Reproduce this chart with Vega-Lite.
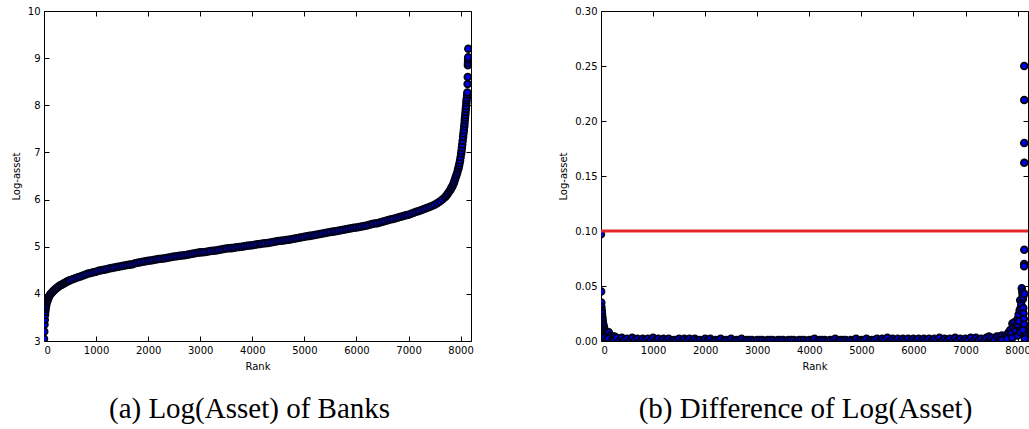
{
  "$schema": "https://vega.github.io/schema/vega-lite/v6.json",
  "background": "white",
  "padding": {"left": 10, "top": 5, "right": 0, "bottom": 0},
  "spacing": 84,
  "config": {
    "view": {"stroke": "#000", "strokeWidth": 1},
    "axis": {"grid": false, "domain": false, "tickColor": "#000", "tickSize": -5, "labelFont": "DejaVu Sans", "labelFontSize": 10, "labelColor": "#000", "titleFont": "DejaVu Sans", "titleFontSize": 10, "titleFontWeight": "normal", "titleColor": "#000", "labelPadding": 9, "titlePadding": 6},
    "title": {"font": "Liberation Serif", "fontSize": 29, "fontWeight": "normal", "orient": "bottom", "color": "#000", "offset": 24}
  },
  "datasets": {
    "left": [
      {"rank": 0, "value": 3.05}, {"rank": 5, "value": 3.2}, {"rank": 10, "value": 3.35}, {"rank": 15, "value": 3.45}, {"rank": 20, "value": 3.55}, {"rank": 25, "value": 3.62}, {"rank": 30, "value": 3.68}, {"rank": 35, "value": 3.72}, {"rank": 40, "value": 3.75}, {"rank": 50, "value": 3.8}, {"rank": 60, "value": 3.84}, {"rank": 70, "value": 3.87}, {"rank": 80, "value": 3.9}, {"rank": 90, "value": 3.93}, {"rank": 100, "value": 3.95}, {"rank": 115, "value": 3.98}, {"rank": 130, "value": 4.0}, {"rank": 145, "value": 4.02}, {"rank": 160, "value": 4.04}, {"rank": 180, "value": 4.06}, {"rank": 200, "value": 4.08}, {"rank": 225, "value": 4.11}, {"rank": 250, "value": 4.13}, {"rank": 275, "value": 4.15}, {"rank": 300, "value": 4.17}, {"rank": 325, "value": 4.19}, {"rank": 350, "value": 4.2}, {"rank": 375, "value": 4.22}, {"rank": 400, "value": 4.23}, {"rank": 425, "value": 4.25}, {"rank": 450, "value": 4.26}, {"rank": 475, "value": 4.28}, {"rank": 500, "value": 4.29}, {"rank": 550, "value": 4.31}, {"rank": 600, "value": 4.33}, {"rank": 650, "value": 4.35}, {"rank": 700, "value": 4.37}, {"rank": 750, "value": 4.39}, {"rank": 800, "value": 4.41}, {"rank": 850, "value": 4.43}, {"rank": 900, "value": 4.44}, {"rank": 950, "value": 4.46}, {"rank": 1000, "value": 4.47},
      {"rank": 1050, "value": 4.49}, {"rank": 1100, "value": 4.5}, {"rank": 1150, "value": 4.51}, {"rank": 1200, "value": 4.52}, {"rank": 1250, "value": 4.54}, {"rank": 1300, "value": 4.55}, {"rank": 1350, "value": 4.56}, {"rank": 1400, "value": 4.57}, {"rank": 1450, "value": 4.58}, {"rank": 1500, "value": 4.59}, {"rank": 1550, "value": 4.6}, {"rank": 1600, "value": 4.61}, {"rank": 1650, "value": 4.62}, {"rank": 1700, "value": 4.63}, {"rank": 1750, "value": 4.65}, {"rank": 1800, "value": 4.66}, {"rank": 1850, "value": 4.67}, {"rank": 1900, "value": 4.68}, {"rank": 1950, "value": 4.69}, {"rank": 2000, "value": 4.7},
      {"rank": 2050, "value": 4.71}, {"rank": 2100, "value": 4.72}, {"rank": 2150, "value": 4.73}, {"rank": 2200, "value": 4.74}, {"rank": 2250, "value": 4.745}, {"rank": 2300, "value": 4.75}, {"rank": 2350, "value": 4.76}, {"rank": 2400, "value": 4.77}, {"rank": 2450, "value": 4.78}, {"rank": 2500, "value": 4.79}, {"rank": 2550, "value": 4.8}, {"rank": 2600, "value": 4.81}, {"rank": 2650, "value": 4.815}, {"rank": 2700, "value": 4.82}, {"rank": 2750, "value": 4.83}, {"rank": 2800, "value": 4.84}, {"rank": 2850, "value": 4.85}, {"rank": 2900, "value": 4.86}, {"rank": 2950, "value": 4.87}, {"rank": 3000, "value": 4.88},
      {"rank": 3050, "value": 4.885}, {"rank": 3100, "value": 4.89}, {"rank": 3150, "value": 4.9}, {"rank": 3200, "value": 4.91}, {"rank": 3250, "value": 4.915}, {"rank": 3300, "value": 4.92}, {"rank": 3350, "value": 4.93}, {"rank": 3400, "value": 4.94}, {"rank": 3450, "value": 4.95}, {"rank": 3500, "value": 4.96}, {"rank": 3550, "value": 4.965}, {"rank": 3600, "value": 4.97}, {"rank": 3650, "value": 4.98}, {"rank": 3700, "value": 4.99}, {"rank": 3750, "value": 4.995}, {"rank": 3800, "value": 5.0}, {"rank": 3850, "value": 5.01}, {"rank": 3900, "value": 5.02}, {"rank": 3950, "value": 5.025}, {"rank": 4000, "value": 5.03},
      {"rank": 4050, "value": 5.04}, {"rank": 4100, "value": 5.05}, {"rank": 4150, "value": 5.06}, {"rank": 4200, "value": 5.07}, {"rank": 4250, "value": 5.075}, {"rank": 4300, "value": 5.08}, {"rank": 4350, "value": 5.09}, {"rank": 4400, "value": 5.1}, {"rank": 4450, "value": 5.11}, {"rank": 4500, "value": 5.12}, {"rank": 4550, "value": 5.125}, {"rank": 4600, "value": 5.13}, {"rank": 4650, "value": 5.14}, {"rank": 4700, "value": 5.15}, {"rank": 4750, "value": 5.16}, {"rank": 4800, "value": 5.17}, {"rank": 4850, "value": 5.18}, {"rank": 4900, "value": 5.19}, {"rank": 4950, "value": 5.2}, {"rank": 5000, "value": 5.21},
      {"rank": 5050, "value": 5.22}, {"rank": 5100, "value": 5.23}, {"rank": 5150, "value": 5.24}, {"rank": 5200, "value": 5.25}, {"rank": 5250, "value": 5.26}, {"rank": 5300, "value": 5.27}, {"rank": 5350, "value": 5.28}, {"rank": 5400, "value": 5.29}, {"rank": 5450, "value": 5.3}, {"rank": 5500, "value": 5.31}, {"rank": 5550, "value": 5.32}, {"rank": 5600, "value": 5.33}, {"rank": 5650, "value": 5.34}, {"rank": 5700, "value": 5.35}, {"rank": 5750, "value": 5.36}, {"rank": 5800, "value": 5.37}, {"rank": 5850, "value": 5.38}, {"rank": 5900, "value": 5.39}, {"rank": 5950, "value": 5.4}, {"rank": 6000, "value": 5.41},
      {"rank": 6050, "value": 5.42}, {"rank": 6100, "value": 5.43}, {"rank": 6150, "value": 5.44}, {"rank": 6200, "value": 5.45}, {"rank": 6250, "value": 5.465}, {"rank": 6300, "value": 5.48}, {"rank": 6350, "value": 5.49}, {"rank": 6400, "value": 5.5}, {"rank": 6450, "value": 5.515}, {"rank": 6500, "value": 5.53}, {"rank": 6550, "value": 5.545}, {"rank": 6600, "value": 5.56}, {"rank": 6650, "value": 5.575}, {"rank": 6700, "value": 5.59}, {"rank": 6750, "value": 5.605}, {"rank": 6800, "value": 5.62}, {"rank": 6850, "value": 5.635}, {"rank": 6900, "value": 5.65}, {"rank": 6950, "value": 5.665}, {"rank": 7000, "value": 5.68},
      {"rank": 7050, "value": 5.7}, {"rank": 7100, "value": 5.72}, {"rank": 7150, "value": 5.74}, {"rank": 7200, "value": 5.76}, {"rank": 7250, "value": 5.78}, {"rank": 7300, "value": 5.8}, {"rank": 7350, "value": 5.82}, {"rank": 7400, "value": 5.84}, {"rank": 7450, "value": 5.865}, {"rank": 7500, "value": 5.89}, {"rank": 7550, "value": 5.92}, {"rank": 7600, "value": 5.96}, {"rank": 7650, "value": 6.0}, {"rank": 7700, "value": 6.05}, {"rank": 7725, "value": 6.08}, {"rank": 7750, "value": 6.12}, {"rank": 7775, "value": 6.16}, {"rank": 7800, "value": 6.2},
      {"rank": 7815, "value": 6.23}, {"rank": 7830, "value": 6.26}, {"rank": 7845, "value": 6.29}, {"rank": 7860, "value": 6.33}, {"rank": 7875, "value": 6.37}, {"rank": 7890, "value": 6.42}, {"rank": 7905, "value": 6.47}, {"rank": 7920, "value": 6.52}, {"rank": 7935, "value": 6.57}, {"rank": 7950, "value": 6.63}, {"rank": 7960, "value": 6.67}, {"rank": 7970, "value": 6.72}, {"rank": 7980, "value": 6.77}, {"rank": 7990, "value": 6.83}, {"rank": 8000, "value": 6.9}, {"rank": 8010, "value": 6.97}, {"rank": 8018, "value": 7.03}, {"rank": 8025, "value": 7.1}, {"rank": 8032, "value": 7.17}, {"rank": 8040, "value": 7.25},
      {"rank": 8048, "value": 7.33}, {"rank": 8055, "value": 7.4}, {"rank": 8062, "value": 7.47}, {"rank": 8070, "value": 7.55}, {"rank": 8075, "value": 7.61}, {"rank": 8080, "value": 7.68}, {"rank": 8085, "value": 7.74}, {"rank": 8090, "value": 7.8}, {"rank": 8095, "value": 7.86}, {"rank": 8100, "value": 7.92}, {"rank": 8105, "value": 7.98}, {"rank": 8110, "value": 8.05}, {"rank": 8115, "value": 8.1}, {"rank": 8120, "value": 8.15}, {"rank": 8125, "value": 8.22}, {"rank": 8130, "value": 8.27},
      {"rank": 8135, "value": 8.45}, {"rank": 8138, "value": 8.6}, {"rank": 8140, "value": 8.85}, {"rank": 8142, "value": 8.9}, {"rank": 8144, "value": 8.97}, {"rank": 8146, "value": 9.02}, {"rank": 8148, "value": 9.2}
    ],
    "right": [
      {"rank": 0, "value": 0.097}, {"rank": 3, "value": 0.045}, {"rank": 6, "value": 0.035}, {"rank": 9, "value": 0.031}, {"rank": 12, "value": 0.028}, {"rank": 15, "value": 0.027}, {"rank": 20, "value": 0.025}, {"rank": 25, "value": 0.022}, {"rank": 30, "value": 0.02}, {"rank": 35, "value": 0.018}, {"rank": 40, "value": 0.016}, {"rank": 50, "value": 0.014}, {"rank": 60, "value": 0.012}, {"rank": 70, "value": 0.01}, {"rank": 80, "value": 0.009}, {"rank": 90, "value": 0.008}, {"rank": 100, "value": 0.007}, {"rank": 120, "value": 0.006}, {"rank": 150, "value": 0.008}, {"rank": 180, "value": 0.005}, {"rank": 220, "value": 0.004}, {"rank": 260, "value": 0.004},
      {"rank": 10, "value": 0.002}, {"rank": 40, "value": 0.001}, {"rank": 70, "value": 0.003}, {"rank": 110, "value": 0.001}, {"rank": 140, "value": 0.002}, {"rank": 200, "value": 0.0}, {"rank": 250, "value": 0.001},
      {"rank": 300, "value": 0.003}, {"rank": 350, "value": 0.0}, {"rank": 400, "value": 0.003}, {"rank": 450, "value": 0.001}, {"rank": 500, "value": 0.002}, {"rank": 550, "value": 0.0}, {"rank": 600, "value": 0.003}, {"rank": 650, "value": 0.001}, {"rank": 700, "value": 0.002}, {"rank": 750, "value": 0.0}, {"rank": 800, "value": 0.002}, {"rank": 850, "value": 0.001}, {"rank": 900, "value": 0.002}, {"rank": 950, "value": 0.0}, {"rank": 1000, "value": 0.003}, {"rank": 1050, "value": 0.001},
      {"rank": 1100, "value": 0.002}, {"rank": 1150, "value": 0.0}, {"rank": 1200, "value": 0.002}, {"rank": 1250, "value": 0.001}, {"rank": 1300, "value": 0.002}, {"rank": 1350, "value": 0.0}, {"rank": 1400, "value": 0.001}, {"rank": 1450, "value": 0.001}, {"rank": 1500, "value": 0.002}, {"rank": 1550, "value": 0.0}, {"rank": 1600, "value": 0.002}, {"rank": 1650, "value": 0.001}, {"rank": 1700, "value": 0.002}, {"rank": 1750, "value": 0.0}, {"rank": 1800, "value": 0.002}, {"rank": 1850, "value": 0.001}, {"rank": 1900, "value": 0.001}, {"rank": 1950, "value": 0.0}, {"rank": 2000, "value": 0.002}, {"rank": 2050, "value": 0.001},
      {"rank": 2100, "value": 0.002}, {"rank": 2150, "value": 0.0}, {"rank": 2200, "value": 0.001}, {"rank": 2250, "value": 0.001}, {"rank": 2300, "value": 0.002}, {"rank": 2350, "value": 0.0}, {"rank": 2400, "value": 0.001}, {"rank": 2450, "value": 0.001}, {"rank": 2500, "value": 0.002}, {"rank": 2550, "value": 0.0}, {"rank": 2600, "value": 0.001}, {"rank": 2650, "value": 0.001}, {"rank": 2700, "value": 0.002}, {"rank": 2750, "value": 0.0}, {"rank": 2800, "value": 0.001}, {"rank": 2850, "value": 0.001}, {"rank": 2900, "value": 0.001}, {"rank": 2950, "value": 0.0}, {"rank": 3000, "value": 0.001}, {"rank": 3050, "value": 0.001},
      {"rank": 3100, "value": 0.001}, {"rank": 3150, "value": 0.0}, {"rank": 3200, "value": 0.001}, {"rank": 3250, "value": 0.001}, {"rank": 3300, "value": 0.001}, {"rank": 3350, "value": 0.0}, {"rank": 3400, "value": 0.001}, {"rank": 3450, "value": 0.001}, {"rank": 3500, "value": 0.001}, {"rank": 3550, "value": 0.0}, {"rank": 3600, "value": 0.001}, {"rank": 3650, "value": 0.001}, {"rank": 3700, "value": 0.001}, {"rank": 3750, "value": 0.0}, {"rank": 3800, "value": 0.001}, {"rank": 3850, "value": 0.001}, {"rank": 3900, "value": 0.001}, {"rank": 3950, "value": 0.0}, {"rank": 4000, "value": 0.001}, {"rank": 4050, "value": 0.001},
      {"rank": 4100, "value": 0.002}, {"rank": 4150, "value": 0.0}, {"rank": 4200, "value": 0.001}, {"rank": 4250, "value": 0.001}, {"rank": 4300, "value": 0.001}, {"rank": 4350, "value": 0.0}, {"rank": 4400, "value": 0.001}, {"rank": 4450, "value": 0.001}, {"rank": 4500, "value": 0.002}, {"rank": 4550, "value": 0.0}, {"rank": 4600, "value": 0.001}, {"rank": 4650, "value": 0.001}, {"rank": 4700, "value": 0.001}, {"rank": 4750, "value": 0.0}, {"rank": 4800, "value": 0.001}, {"rank": 4850, "value": 0.001}, {"rank": 4900, "value": 0.002}, {"rank": 4950, "value": 0.0}, {"rank": 5000, "value": 0.001}, {"rank": 5050, "value": 0.001},
      {"rank": 5100, "value": 0.002}, {"rank": 5150, "value": 0.0}, {"rank": 5200, "value": 0.001}, {"rank": 5250, "value": 0.001}, {"rank": 5300, "value": 0.002}, {"rank": 5350, "value": 0.0}, {"rank": 5400, "value": 0.002}, {"rank": 5450, "value": 0.001}, {"rank": 5500, "value": 0.003}, {"rank": 5550, "value": 0.0}, {"rank": 5600, "value": 0.002}, {"rank": 5650, "value": 0.001}, {"rank": 5700, "value": 0.002}, {"rank": 5750, "value": 0.0}, {"rank": 5800, "value": 0.002}, {"rank": 5850, "value": 0.001}, {"rank": 5900, "value": 0.002}, {"rank": 5950, "value": 0.0}, {"rank": 6000, "value": 0.002}, {"rank": 6050, "value": 0.001},
      {"rank": 6100, "value": 0.002}, {"rank": 6150, "value": 0.0}, {"rank": 6200, "value": 0.002}, {"rank": 6250, "value": 0.001}, {"rank": 6300, "value": 0.002}, {"rank": 6350, "value": 0.0}, {"rank": 6400, "value": 0.002}, {"rank": 6450, "value": 0.001}, {"rank": 6500, "value": 0.003}, {"rank": 6550, "value": 0.0}, {"rank": 6600, "value": 0.002}, {"rank": 6650, "value": 0.001}, {"rank": 6700, "value": 0.002}, {"rank": 6750, "value": 0.0}, {"rank": 6800, "value": 0.003}, {"rank": 6850, "value": 0.001}, {"rank": 6900, "value": 0.002}, {"rank": 6950, "value": 0.0}, {"rank": 7000, "value": 0.002}, {"rank": 7050, "value": 0.001},
      {"rank": 7100, "value": 0.003}, {"rank": 7150, "value": 0.0}, {"rank": 7200, "value": 0.003}, {"rank": 7250, "value": 0.001}, {"rank": 7300, "value": 0.002}, {"rank": 7350, "value": 0.0}, {"rank": 7400, "value": 0.003}, {"rank": 7450, "value": 0.004}, {"rank": 7500, "value": 0.003}, {"rank": 7550, "value": 0.001}, {"rank": 7600, "value": 0.004}, {"rank": 7650, "value": 0.004},
      {"rank": 7700, "value": 0.005}, {"rank": 7750, "value": 0.004}, {"rank": 7800, "value": 0.006}, {"rank": 7830, "value": 0.008}, {"rank": 7860, "value": 0.01}, {"rank": 7880, "value": 0.007}, {"rank": 7900, "value": 0.016}, {"rank": 7920, "value": 0.012}, {"rank": 7940, "value": 0.017}, {"rank": 7960, "value": 0.01}, {"rank": 7980, "value": 0.014}, {"rank": 8000, "value": 0.02}, {"rank": 8010, "value": 0.015}, {"rank": 8020, "value": 0.024}, {"rank": 8030, "value": 0.018}, {"rank": 8040, "value": 0.028}, {"rank": 8050, "value": 0.037}, {"rank": 8060, "value": 0.03}, {"rank": 8070, "value": 0.033}, {"rank": 8080, "value": 0.048}, {"rank": 8090, "value": 0.045}, {"rank": 8095, "value": 0.042}, {"rank": 8100, "value": 0.038}, {"rank": 8105, "value": 0.04}, {"rank": 8110, "value": 0.03}, {"rank": 8115, "value": 0.025}, {"rank": 8120, "value": 0.02}, {"rank": 8125, "value": 0.015}, {"rank": 8130, "value": 0.043}, {"rank": 8135, "value": 0.01}, {"rank": 8140, "value": 0.005},
      {"rank": 7700, "value": 0.001}, {"rank": 7800, "value": 0.002}, {"rank": 7900, "value": 0.003}, {"rank": 8000, "value": 0.005}, {"rank": 8050, "value": 0.008}, {"rank": 8100, "value": 0.01}, {"rank": 8140, "value": 0.002},
      {"rank": 8128, "value": 0.25}, {"rank": 8128, "value": 0.219}, {"rank": 8128, "value": 0.18}, {"rank": 8128, "value": 0.162}, {"rank": 8128, "value": 0.083}, {"rank": 8126, "value": 0.07}, {"rank": 8126, "value": 0.068}
    ]
  },
  "hconcat": [
    {
      "width": 427,
      "height": 330,
      "title": {"text": "(a) Log(Asset) of Banks", "dx": -8},
      "data": {"name": "left"},
      "layer": [
        {
          "mark": {"type": "circle", "size": 45, "fill": "#0000ee", "stroke": "#000018", "strokeWidth": 1.8, "opacity": 1, "clip": true},
          "encoding": {
            "x": {"field": "rank", "type": "quantitative", "scale": {"domain": [0, 8200], "nice": false}, "axis": {"orient": "bottom", "title": "Rank", "format": "d", "values": [0, 1000, 2000, 3000, 4000, 5000, 6000, 7000, 8000]}},
            "y": {"field": "value", "type": "quantitative", "scale": {"domain": [3, 10], "nice": false, "zero": false}, "axis": {"orient": "left", "title": "Log-asset", "values": [3, 4, 5, 6, 7, 8, 9, 10]}}
          }
        },
        {
          "mark": {"type": "circle", "opacity": 0},
          "encoding": {
            "x": {"field": "rank", "type": "quantitative", "axis": {"orient": "top", "labels": false, "title": null, "values": [0, 1000, 2000, 3000, 4000, 5000, 6000, 7000, 8000]}},
            "y": {"field": "value", "type": "quantitative", "axis": {"orient": "right", "labels": false, "title": null, "values": [3, 4, 5, 6, 7, 8, 9, 10]}}
          }
        }
      ],
      "resolve": {"axis": {"x": "independent", "y": "independent"}}
    },
    {
      "width": 427,
      "height": 330,
      "title": {"text": "(b) Difference of Log(Asset)", "dx": -9},
      "layer": [
        {
          "data": {"name": "right"},
          "mark": {"type": "circle", "size": 45, "fill": "#0000ee", "stroke": "#000018", "strokeWidth": 1.8, "opacity": 1, "clip": true},
          "encoding": {
            "x": {"field": "rank", "type": "quantitative", "scale": {"domain": [0, 8200], "nice": false}, "axis": {"orient": "bottom", "title": "Rank", "format": "d", "values": [0, 1000, 2000, 3000, 4000, 5000, 6000, 7000, 8000]}},
            "y": {"field": "value", "type": "quantitative", "scale": {"domain": [0, 0.3], "nice": false}, "axis": {"orient": "left", "title": "Log-asset", "format": ".2f", "values": [0, 0.05, 0.1, 0.15, 0.2, 0.25, 0.3]}}
          }
        },
        {
          "data": {"values": [{"threshold": 0.1}]},
          "mark": {"type": "rule", "color": "#e3262a", "strokeWidth": 3},
          "encoding": {
            "y": {"field": "threshold", "type": "quantitative", "axis": {"orient": "right", "labels": false, "title": null, "values": [0, 0.05, 0.1, 0.15, 0.2, 0.25, 0.3]}}
          }
        },
        {
          "data": {"name": "right"},
          "mark": {"type": "circle", "opacity": 0},
          "encoding": {
            "x": {"field": "rank", "type": "quantitative", "axis": {"orient": "top", "labels": false, "title": null, "values": [0, 1000, 2000, 3000, 4000, 5000, 6000, 7000, 8000]}}
          }
        }
      ],
      "resolve": {"axis": {"x": "independent", "y": "independent"}}
    }
  ]
}
